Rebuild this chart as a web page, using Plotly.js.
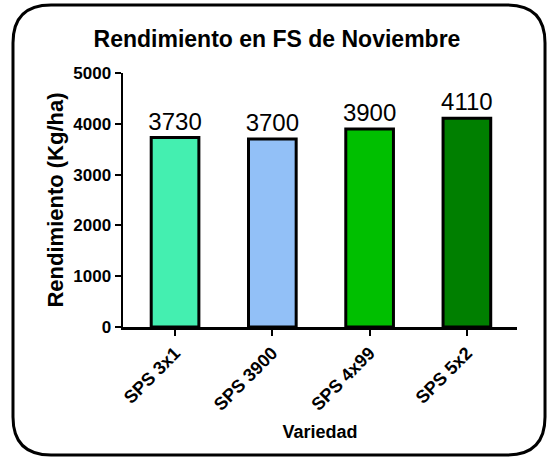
<!DOCTYPE html>
<html>
<head>
<meta charset="utf-8">
<script src="https://cdn.plot.ly/plotly-3.0.1.min.js"></script>
<style>
  html, body { margin: 0; padding: 0; background: #fff; }
  #chart { width: 547px; height: 457px; }
</style>
</head>
<body>
<div id="chart"></div>
<script>
var variedades = ['SPS 3x1', 'SPS 3900', 'SPS 4x99', 'SPS 5x2'];
var rendimiento = [3730, 3700, 3900, 4110];
var colores = ['#44EFB0', '#92C0F7', '#00BF00', '#007F00'];

var W = 547, H = 457;
var mL = 123, mR = 30, mT = 73, mB = 130;
var pw = W - mL - mR, ph = H - mT - mB;

// pixel -> paper helpers for the rounded frame
function px(x) { return ((x - mL) / pw).toFixed(4); }
function py(y) { return ((H - mB - y) / ph).toFixed(4); }

var L = 13, R = 545, T = 5, B = 455, r = 38;
var frame = 'M ' + px(L + r) + ',' + py(T) +
  ' L ' + px(R - r) + ',' + py(T) +
  ' Q ' + px(R) + ',' + py(T) + ' ' + px(R) + ',' + py(T + r) +
  ' L ' + px(R) + ',' + py(B - r) +
  ' Q ' + px(R) + ',' + py(B) + ' ' + px(R - r) + ',' + py(B) +
  ' L ' + px(L + r) + ',' + py(B) +
  ' Q ' + px(L) + ',' + py(B) + ' ' + px(L) + ',' + py(B - r) +
  ' L ' + px(L) + ',' + py(T + r) +
  ' Q ' + px(L) + ',' + py(T) + ' ' + px(L + r) + ',' + py(T) + ' Z';

var fam = 'Liberation Sans, Arial, sans-serif';

var trace = {
  type: 'bar',
  x: variedades,
  y: rendimiento,
  width: 0.49,
  marker: { color: colores, line: { color: '#000', width: 3 } },
  text: rendimiento.map(String),
  textposition: 'outside',
  constraintext: 'none',
  cliponaxis: false,
  textfont: { family: fam, size: 24, color: '#000' },
  hoverinfo: 'skip'
};

var layout = {
  width: W,
  height: H,
  margin: { l: mL, r: mR, t: mT, b: mB },
  paper_bgcolor: '#fff',
  plot_bgcolor: '#fff',
  showlegend: false,
  title: {
    text: 'Rendimiento en FS de Noviembre',
    font: { family: fam, size: 23, weight: 'bold', color: '#000' },
    xref: 'container', x: 277 / W, xanchor: 'center',
    yref: 'container', y: 1 - 39 / H, yanchor: 'middle'
  },
  xaxis: {
    range: [-0.535, 3.515],
    showline: true, linecolor: '#000', linewidth: 2.5,
    ticks: 'outside', ticklen: 6, tickwidth: 2, tickcolor: '#000',
    tickangle: -45,
    tickfont: { family: fam, size: 18, weight: 'bold', color: '#000' },
    showgrid: false, zeroline: false,
    title: {
      text: 'Variedad',
      font: { family: fam, size: 18, weight: 'bold', color: '#000' },
      standoff: 12
    }
  },
  yaxis: {
    range: [0, 5000],
    dtick: 1000,
    showline: true, linecolor: '#000', linewidth: 2.5,
    ticks: 'outside', ticklen: 6, tickwidth: 2, tickcolor: '#000',
    tickfont: { family: fam, size: 17, weight: 'bold', color: '#000' },
    showgrid: false, zeroline: false,
    title: {
      text: 'Rendimiento (Kg/ha)',
      font: { family: fam, size: 22, weight: 'bold', color: '#000' },
      standoff: 4
    }
  },
  shapes: [{
    type: 'path', xref: 'paper', yref: 'paper', path: frame,
    line: { color: '#000', width: 3 }, fillcolor: 'rgba(0,0,0,0)', layer: 'above'
  }]
};

Plotly.newPlot('chart', [trace], layout, { displayModeBar: false, staticPlot: true });
</script>
</body>
</html>
